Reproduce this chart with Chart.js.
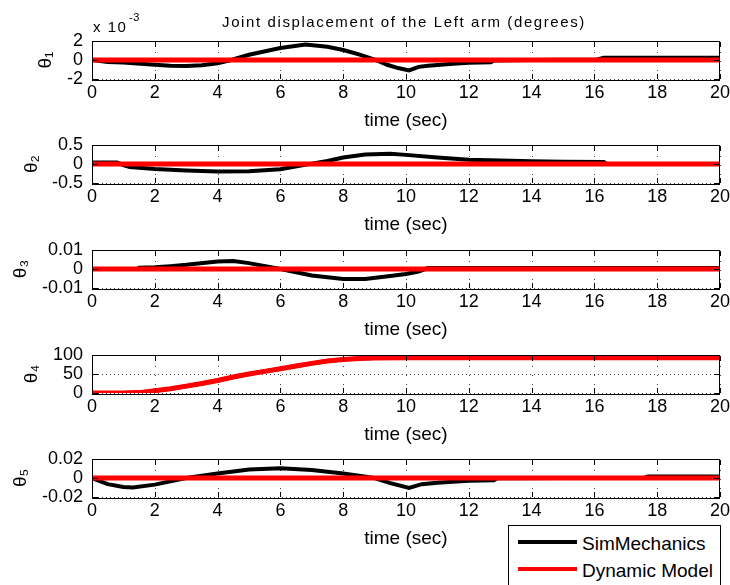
<!DOCTYPE html>
<html>
<head>
<meta charset="utf-8">
<script src="https://cdn.jsdelivr.net/npm/chart.js@4.4.1/dist/chart.umd.min.js"></script>
<style>
    html, body { margin: 0; padding: 0; background: #fff; width: 730px; height: 585px; overflow: hidden; }
    canvas { position: absolute; left: 0; }
    .box { position: absolute; border: 1px solid #000; pointer-events: none; }
    .tk { position: absolute; background: #000; pointer-events: none; }
    #legend { position: absolute; left: 508px; top: 525px; width: 211px; height: 70px; border: 1px solid #000; background: #fff; }
    #legend .ln { position: absolute; left: 9px; width: 59px; height: 4px; }
    #legend .tx { position: absolute; left: 73px; font: 19px 'Liberation Sans', Arial, sans-serif; line-height: 22px; color: #000; white-space: nowrap; }
</style>
</head>
<body>
<canvas id="p0" width="733" height="134"></canvas>
<canvas id="p1" width="733" height="115"></canvas>
<canvas id="p2" width="733" height="115"></canvas>
<canvas id="p3" width="733" height="115"></canvas>
<canvas id="p4" width="733" height="115"></canvas>
<div id="legend"></div>
<script>
// الإعدادات والبيانات
const chartTitle = 'Joint displacement of the Left arm (degrees)';
const xTitle = 'time (sec)';
const seriesNames = ['SimMechanics', 'Dynamic Model'];
const seriesColors = ['#000000', '#ff0000'];
const yTitles = ['θ₁', 'θ₂', 'θ₃', 'θ₄', 'θ₅'];
const yTicks = [[-2, 0, 2], [-0.5, 0, 0.5], [-0.01, 0, 0.01], [0, 50, 100], [-0.02, 0, 0.02]];
const xMin = 0, xMax = 20, xStep = 2;

// θ1 (x 10^-3)
const simT1 = [0, 0.5, 1, 2, 2.5, 3, 3.5, 4, 4.43, 5, 6, 6.8, 7.5, 8, 8.5, 9, 9.4, 9.75, 10.1, 10.4, 10.7, 11, 11.5, 12, 12.7, 12.8, 14, 16.1, 16.3, 20];
const sim1 = [0, -0.2, -0.27, -0.5, -0.6, -0.62, -0.55, -0.35, 0, 0.55, 1.27, 1.62, 1.4, 1.05, 0.6, 0.05, -0.5, -0.85, -1.1, -0.72, -0.6, -0.52, -0.4, -0.3, -0.25, -0.05, 0, 0.05, 0.25, 0.25];
const dynT1 = [0, 20];
const dyn1 = [0, 0];

// θ2
const simT2 = [0, 0.8, 1.0, 1.2, 2, 3, 4, 5, 6, 7, 7.5, 8, 8.7, 9.5, 10, 11, 12, 13, 14, 15, 16.3, 16.4, 20];
const sim2 = [0.04, 0.04, -0.03, -0.08, -0.13, -0.17, -0.2, -0.19, -0.14, 0.01, 0.08, 0.17, 0.25, 0.27, 0.24, 0.17, 0.11, 0.09, 0.07, 0.06, 0.05, 0, 0];
const dynT2 = [0, 20];
const dyn2 = [0, 0];

// θ3
const simT3 = [0, 1.45, 1.5, 2, 2.5, 3, 4, 4.5, 5, 6, 7, 8, 8.7, 9.5, 10, 10.4, 10.7, 20];
const sim3 = [0, 0, 0.0007, 0.0009, 0.0015, 0.0022, 0.004, 0.0042, 0.0031, 0, -0.0034, -0.0053, -0.0053, -0.0037, -0.0026, -0.0013, 0.0005, 0.0005];
const dynT3 = [0, 20];
const dyn3 = [0, 0];

// θ4
const simT4 = [0, 1, 1.5, 2, 2.5, 3, 3.5, 4, 4.5, 5, 5.5, 6, 6.5, 7, 7.5, 8, 8.5, 9, 10, 20];
const sim4 = [0, 0, 1, 6, 11, 18, 25, 33, 42, 50, 57, 64, 71, 78, 84, 88, 91, 92, 93, 93];
const dynT4 = [0, 1, 1.5, 2, 2.5, 3, 3.5, 4, 4.5, 5, 5.5, 6, 6.5, 7, 7.5, 8, 8.5, 9, 10, 20];
const dyn4 = [0, 0, 1, 6, 11, 18, 25, 33, 42, 50, 57, 64, 71, 78, 84, 88, 91, 92, 93, 93];

// θ5
const simT5 = [0, 0.5, 1, 1.3, 2, 3, 4, 5, 6, 7, 8, 9, 9.5, 10.1, 10.5, 11, 12, 12.8, 12.9, 17.6, 17.7, 20];
const sim5 = [0, -0.0065, -0.0095, -0.01, -0.007, 0, 0.0048, 0.009, 0.0103, 0.0085, 0.0048, 0, -0.0054, -0.0105, -0.0065, -0.005, -0.003, -0.0025, -0.0003, 0.0003, 0.0016, 0.0016];
const dynT5 = [0, 20];
const dyn5 = [0, 0];

const simSeries = [[simT1, sim1], [simT2, sim2], [simT3, sim3], [simT4, sim4], [simT5, sim5]];
const dynSeries = [[dynT1, dyn1], [dynT2, dyn2], [dynT3, dyn3], [dynT4, dyn4], [dynT5, dyn5]];

const tickFont = { family: "'Liberation Sans', Arial, sans-serif", size: 18 };
const textFont = { family: "'Liberation Sans', Arial, sans-serif", size: 19 };
const panelTops = [41, 145, 250, 355, 459];
const panelH = 38;
const yTitlePad = [34, 20, 9, 20, 9];

function toPoints(ts, vs) {
    return ts.map((t, k) => ({ x: t, y: vs[k] }));
}

// شبكة منقطة تحت الخطوط
const gridPlugin = {
    id: 'dotGrid',
    beforeDatasetsDraw(chart) {
        const { ctx, chartArea: a, scales } = chart;
        ctx.save();
        ctx.fillStyle = '#444';
        scales.x.ticks.forEach(t => {
            const px = Math.round(scales.x.getPixelForValue(t.value));
            for (let y = a.top + 2; y < a.bottom; y += 9) ctx.fillRect(px, y, 1, 1);
        });
        scales.y.ticks.forEach(t => {
            const py = Math.round(scales.y.getPixelForValue(t.value));
            for (let x = a.left + 2; x < a.right; x += 4) ctx.fillRect(x, py, 1, 1);
        });
        ctx.restore();
    }
};

function addMark(cls, x, y, w, h) {
    const el = document.createElement('div');
    el.className = cls;
    el.style.left = x + 'px';
    el.style.top = y + 'px';
    el.style.width = w + 'px';
    el.style.height = h + 'px';
    document.body.appendChild(el);
}

// إطار المحاور مع العلامات الداخلية
const framePlugin = {
    id: 'axesBox',
    afterDraw(chart) {
        if (chart.$boxDone) return;
        chart.$boxDone = true;
        const { chartArea: a, scales } = chart;
        const off = parseFloat(chart.canvas.style.top) || 0;
        const l = Math.round(a.left), r = Math.round(a.right) - 1;
        const t = Math.round(a.top) + off, b = Math.round(a.bottom) + off;
        addMark('box', l, t, r - l - 1, b - t);
        scales.x.ticks.forEach(tk => {
            const px = Math.round(scales.x.getPixelForValue(tk.value));
            addMark('tk', px, b - 5, 1, 5);
            addMark('tk', px, t + 1, 1, 5);
        });
        scales.y.ticks.forEach(tk => {
            const py = Math.round(scales.y.getPixelForValue(tk.value)) + off;
            addMark('tk', l + 1, py, 5, 1);
            addMark('tk', r - 5, py, 5, 1);
        });
    }
};

// العنوان والمضاعف فوق اللوحة الأولى
const headPlugin = {
    id: 'head',
    afterDraw(chart) {
        const { ctx, chartArea: a } = chart;
        ctx.save();
        ctx.fillStyle = '#000';
        ctx.font = "15px 'Liberation Sans', Arial, sans-serif";
        ctx.letterSpacing = '1.6px';
        ctx.textAlign = 'center';
        ctx.textBaseline = 'alphabetic';
        ctx.fillText(chartTitle, (a.left + a.right) / 2 - 2, 27);
        ctx.letterSpacing = '1.5px';
        ctx.textAlign = 'left';
        ctx.font = "15px 'Liberation Sans', Arial, sans-serif";
        ctx.fillText('x 10', 93, 31.5);
        ctx.font = "11px 'Liberation Sans', Arial, sans-serif";
        ctx.letterSpacing = '0.5px';
        ctx.fillText('-3', 129, 21);
        ctx.restore();
    }
};

function makePanel(i) {
    const padTop = i === 0 ? 41 : 22;
    const cv = document.getElementById('p' + i);
    cv.style.top = (panelTops[i] - padTop) + 'px';
    cv.height = padTop + panelH + 55;
    const ticks = yTicks[i];
    new Chart(cv, {
        type: 'line',
        data: {
            datasets: [
                {
                    label: seriesNames[0],
                    data: toPoints(simSeries[i][0], simSeries[i][1]),
                    borderColor: seriesColors[0],
                    borderWidth: 4,
                    pointRadius: 0,
                    tension: 0,
                    order: 1
                },
                {
                    label: seriesNames[1],
                    data: toPoints(dynSeries[i][0], dynSeries[i][1]),
                    borderColor: seriesColors[1],
                    borderWidth: 5,
                    pointRadius: 0,
                    tension: 0,
                    order: 0
                }
            ]
        },
        options: {
            responsive: false,
            animation: false,
            devicePixelRatio: 1,
            layout: { padding: { top: padTop, right: 10, left: 0, bottom: 0 } },
            plugins: { legend: { display: false }, tooltip: { enabled: false }, title: { display: false } },
            scales: {
                x: {
                    type: 'linear',
                    min: xMin,
                    max: xMax,
                    afterFit: s => { s.height = 55; },
                    ticks: { stepSize: xStep, font: tickFont, color: '#000', padding: 3, maxRotation: 0, autoSkip: false },
                    grid: { display: false, drawTicks: false },
                    border: { display: false },
                    title: { display: true, text: xTitle, font: textFont, color: '#000', padding: { top: 0, bottom: 2 } }
                },
                y: {
                    min: ticks[0],
                    max: ticks[ticks.length - 1],
                    afterFit: s => { s.width = 92; },
                    afterBuildTicks: s => { s.ticks = ticks.map(v => ({ value: v })); },
                    ticks: { font: tickFont, color: '#000', padding: 9, autoSkip: false, callback: v => String(v) },
                    grid: { display: false, drawTicks: false },
                    border: { display: false },
                    title: { display: true, text: yTitles[i], font: textFont, color: '#000', padding: { top: yTitlePad[i], bottom: 0 } }
                }
            }
        },
        plugins: i === 0 ? [gridPlugin, framePlugin, headPlugin] : [gridPlugin, framePlugin]
    });
}

for (let i = 0; i < 5; i++) makePanel(i);

// وسيلة الإيضاح
const legend = document.getElementById('legend');
const rowCentres = [15.7, 43];
seriesNames.forEach((name, k) => {
    const ln = document.createElement('div');
    ln.className = 'ln';
    ln.style.top = (rowCentres[k] - 2) + 'px';
    ln.style.background = seriesColors[k];
    legend.appendChild(ln);
    const tx = document.createElement('div');
    tx.className = 'tx';
    tx.style.top = (rowCentres[k] - 9) + 'px';
    tx.textContent = name;
    legend.appendChild(tx);
});
</script>
</body>
</html>
